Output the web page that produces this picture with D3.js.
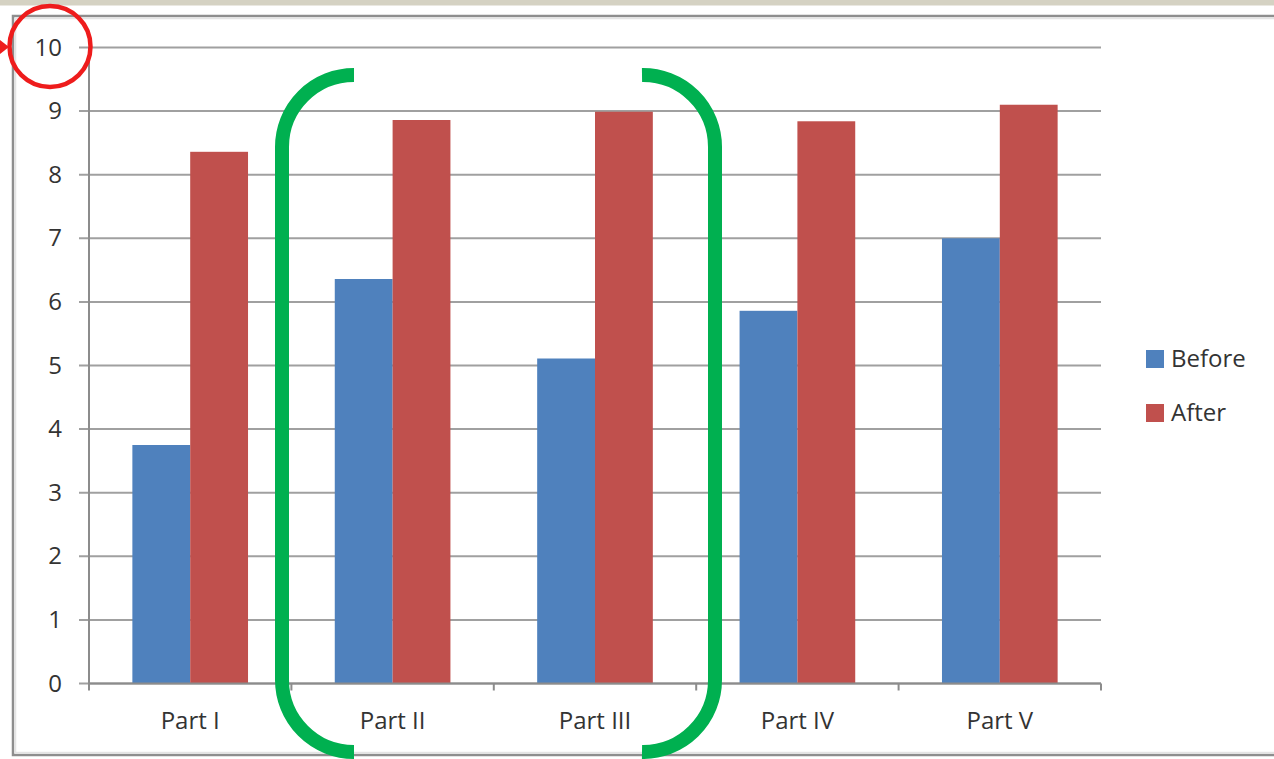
<!DOCTYPE html>
<html>
<head>
<meta charset="utf-8">
<script src="https://cdn.jsdelivr.net/npm/d3@7"></script>
<style>
  html, body { margin: 0; padding: 0; background: #ffffff; }
  svg { display: block; }
  text { font-family: "Open Sans", Lato, sans-serif; fill: #333333; }
</style>
</head>
<body>
<svg id="chart" width="1274" height="759"></svg>
<script>
// Chart data
const categories = ["Part I", "Part II", "Part III", "Part IV", "Part V"];
const seriesNames = ["Before", "After"];
const beforeValues = [3.75, 6.36, 5.11, 5.86, 7.0];
const afterValues = [8.36, 8.86, 8.99, 8.84, 9.1];
const yTicks = [0, 1, 2, 3, 4, 5, 6, 7, 8, 9, 10];
const seriesColors = ["#4f81bd", "#c0504d"];

const W = 1274, H = 759;
const plot = { left: 89, right: 1101, top: 47.5, bottom: 683.5 };
const textColor = "#333333";

const svg = d3.select("#chart");

// Window strip and chart frame
svg.append("rect").attr("x", 0).attr("y", 0).attr("width", W).attr("height", 5.5)
  .attr("fill", "#d5d2c3");
svg.append("rect").attr("x", 13).attr("y", 16).attr("width", W + 20).attr("height", 739)
  .attr("fill", "none").attr("stroke", "#8e8e8e").attr("stroke-width", 2.5);
svg.append("rect").attr("x", 15.5).attr("y", 18.5).attr("width", W + 20).attr("height", 734)
  .attr("fill", "none").attr("stroke", "#e4e4e4").attr("stroke-width", 1.5);

// Scales
const y = d3.scaleLinear().domain([0, 10]).range([plot.bottom, plot.top]);
const x0 = d3.scaleBand().domain(categories).range([plot.left, plot.right])
  .paddingInner(0).paddingOuter(0);
const gapWidth = 0.75; // gap between clusters, as a share of the cluster width
const band = x0.bandwidth();
const gap = band * gapWidth / (1 + gapWidth);
const x1 = d3.scaleBand().domain(seriesNames).range([gap / 2, band - gap / 2])
  .paddingInner(0).paddingOuter(0);

// Horizontal gridlines
svg.append("g").selectAll("line").data(yTicks).join("line")
  .attr("x1", plot.left - 10).attr("x2", plot.right)
  .attr("y1", d => y(d)).attr("y2", d => y(d))
  .attr("stroke", "#a0a0a0").attr("stroke-width", 2);

// Y axis labels
const yAxis = d3.axisLeft(y).tickValues(yTicks).tickSize(0).tickPadding(27)
  .tickFormat(d3.format("d"));
const gy = svg.append("g").attr("transform", `translate(${plot.left},0)`).call(yAxis);
gy.select(".domain").remove();
gy.selectAll("text").style("font-size", "24px").attr("fill", textColor)
  .style("font-family", "'Open Sans', Lato, sans-serif");

// Vertical axis line
svg.append("line").attr("x1", plot.left).attr("x2", plot.left)
  .attr("y1", plot.top).attr("y2", plot.bottom + 6)
  .attr("stroke", "#8c8c8c").attr("stroke-width", 2);

// Bars
const groups = svg.append("g").selectAll("g").data(categories).join("g")
  .attr("transform", d => `translate(${x0(d)},0)`);
groups.selectAll("rect")
  .data((d, i) => [
    { s: "Before", v: beforeValues[i] },
    { s: "After", v: afterValues[i] }
  ])
  .join("rect")
  .attr("x", d => x1(d.s))
  .attr("width", x1.bandwidth())
  .attr("y", d => y(d.v))
  .attr("height", d => y(0) - y(d.v))
  .attr("fill", (d, i) => seriesColors[i]);

// Category axis
const xAxis = d3.axisBottom(x0).tickSize(0).tickPadding(28);
const gx = svg.append("g").attr("transform", `translate(0,${plot.bottom})`).call(xAxis);
gx.select(".domain").remove();
gx.selectAll("text").style("font-size", "24px").attr("fill", textColor)
  .style("font-family", "'Open Sans', Lato, sans-serif");
svg.append("line").attr("x1", plot.left).attr("x2", plot.right)
  .attr("y1", plot.bottom).attr("y2", plot.bottom)
  .attr("stroke", "#8c8c8c").attr("stroke-width", 2);
const boundaries = categories.map(c => x0(c)).concat([plot.right]);
svg.append("g").selectAll("line").data(boundaries).join("line")
  .attr("x1", d => d).attr("x2", d => d)
  .attr("y1", plot.bottom).attr("y2", plot.bottom + 7)
  .attr("stroke", "#8c8c8c").attr("stroke-width", 2);

// Legend
const legend = svg.append("g").attr("transform", "translate(1146,350)");
const legendItems = legend.selectAll("g").data(seriesNames).join("g")
  .attr("transform", (d, i) => `translate(0,${i * 54})`);
legendItems.append("rect").attr("width", 18).attr("height", 18)
  .attr("fill", (d, i) => seriesColors[i]);
legendItems.append("text").attr("x", 25).attr("y", 17)
  .style("font-size", "24px").attr("fill", textColor).text(d => d);

// Highlight: circle around the top value with a pointer
svg.append("circle").attr("cx", 50).attr("cy", 46.5).attr("r", 40.5)
  .attr("fill", "none").attr("stroke", "#ee1c1c").attr("stroke-width", 4.5);
svg.append("path").attr("d", "M0,40 L9,47 L0,54 Z").attr("fill", "#ee1c1c");

// Highlight: brackets around Part II and Part III
const bracketTop = 75, bracketBottom = 752, r = 72;
const leftX = 282, leftEnd = 354;
const rightX = 715, rightEnd = 642;
svg.append("path")
  .attr("d", `M${leftEnd},${bracketTop} A${r},${r} 0 0 0 ${leftX},${bracketTop + r}
              L${leftX},${bracketBottom - r} A${r},${r} 0 0 0 ${leftEnd},${bracketBottom}`)
  .attr("fill", "none").attr("stroke", "#00b050").attr("stroke-width", 14);
svg.append("path")
  .attr("d", `M${rightEnd},${bracketTop} A${r},${r} 0 0 1 ${rightX},${bracketTop + r}
              L${rightX},${bracketBottom - r} A${r},${r} 0 0 1 ${rightEnd},${bracketBottom}`)
  .attr("fill", "none").attr("stroke", "#00b050").attr("stroke-width", 14);
</script>
</body>
</html>
